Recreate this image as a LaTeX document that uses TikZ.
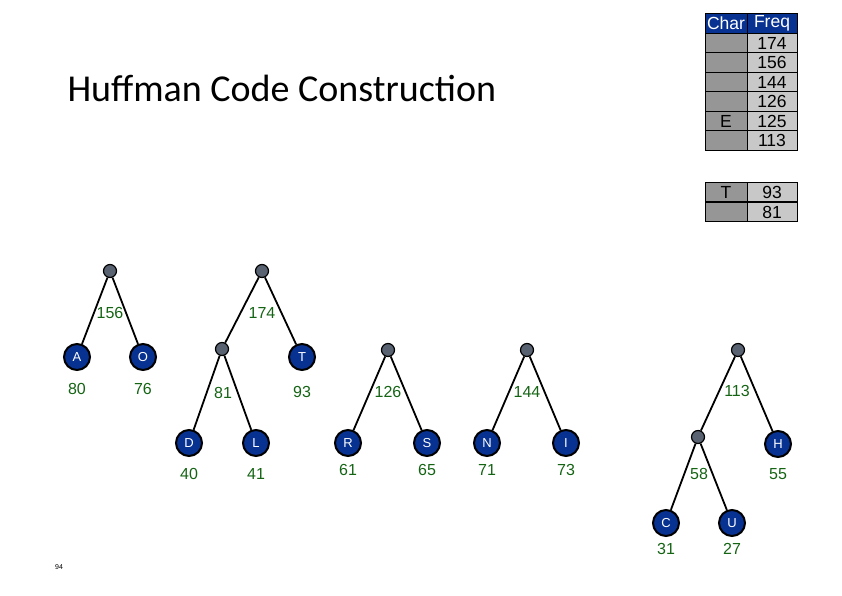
\documentclass[tikz,border=0pt]{standalone}
\usepackage{fontspec}
\setmainfont{Carlito}
\newfontfamily\comicfont{Liberation Sans}
\definecolor{leafblue}{RGB}{8,50,145}
\definecolor{knotgray}{RGB}{88,98,112}
\definecolor{wgreen}{RGB}{20,100,20}
\definecolor{chargray}{RGB}{150,150,150}
\definecolor{freqgray}{RGB}{200,200,200}
\tikzset{
  leaf/.style={circle,draw=black,line width=2pt,fill=leafblue,minimum size=26pt,inner sep=0pt,text=white,font=\comicfont\fontsize{13}{13}\selectfont},
  knot/.style={circle,draw=black,line width=1.2pt,fill=knotgray,minimum size=13pt,inner sep=0pt},
  weight/.style={text=wgreen,font=\comicfont\fontsize{16}{16}\selectfont},
  branch/.style={line width=1.8pt,black},
  charcell/.style={draw=black,line width=0.8pt,fill=chargray,minimum width=42pt,minimum height=19.5pt,inner sep=0pt,font=\comicfont\fontsize{17.5}{17.5}\selectfont},
  freqcell/.style={draw=black,line width=0.8pt,fill=freqgray,minimum width=50pt,minimum height=19.5pt,inner sep=0pt,font=\comicfont\fontsize{17.5}{17.5}\selectfont},
}
\begin{document}
\begin{tikzpicture}[x=1pt,y=-1pt]
    \useasboundingbox (0,0) rectangle (842,595);
    \node[anchor=base west,font=\fontsize{38}{38}\selectfont] (title) at (64,101) {Huffman Code Construction};
    \node[font=\comicfont\fontsize{7}{7}\selectfont] (page) at (59,567) {94};
    % table
    \node[charcell,fill=leafblue,text=white,minimum height=20pt] (hc) at (726,23) {Char};
    \node[freqcell,fill=leafblue,text=white,minimum height=20pt] (hf) at (772,23) {Freq};
    \foreach \c/\f [count=\i] in {/174,/156,/144,/126,E/125,/113}{
        \node[charcell] (c\i) at (726,23.5+19.5*\i) {\c};
        \node[freqcell] (f\i) at (772,23.5+19.5*\i) {\f};
    }
    \node[charcell] (c7) at (726,192) {T};
    \node[freqcell] (f7) at (772,192) {93};
    \node[charcell] (c8) at (726,212) {};
    \node[freqcell] (f8) at (772,212) {81};
    % tree 156
    \node[knot] (n156) at (110,271) {};
    \node[leaf] (A) at (77,357) {A};
    \node[leaf] (O) at (143,357) {O};
    \draw[branch] (n156) -- (A);
    \draw[branch] (n156) -- (O);
    \node[weight] at (110,313) {156};
    \node[weight] at (77,389) {80};
    \node[weight] at (143,389) {76};
    % tree 174
    \node[knot] (n174) at (262,271) {};
    \node[knot] (n81) at (222,349) {};
    \node[leaf] (T) at (302,357) {T};
    \node[leaf] (D) at (189,443) {D};
    \node[leaf] (L) at (256,443) {L};
    \draw[branch] (n174) -- (n81);
    \draw[branch] (n174) -- (T);
    \draw[branch] (n81) -- (D);
    \draw[branch] (n81) -- (L);
    \node[weight] at (262,313) {174};
    \node[weight] at (223,393) {81};
    \node[weight] at (302,392) {93};
    \node[weight] at (189,474) {40};
    \node[weight] at (256,474) {41};
    % tree 126
    \node[knot] (n126) at (388,350) {};
    \node[leaf] (R) at (348,443) {R};
    \node[leaf] (S) at (427,443) {S};
    \draw[branch] (n126) -- (R);
    \draw[branch] (n126) -- (S);
    \node[weight] at (388,392) {126};
    \node[weight] at (348,470) {61};
    \node[weight] at (427,470) {65};
    % tree 144
    \node[knot] (n144) at (527,350) {};
    \node[leaf] (N) at (487,443) {N};
    \node[leaf] (I) at (566,443) {I};
    \draw[branch] (n144) -- (N);
    \draw[branch] (n144) -- (I);
    \node[weight] at (527,392) {144};
    \node[weight] at (487,470) {71};
    \node[weight] at (566,470) {73};
    % tree 113
    \node[knot] (n113) at (738,350) {};
    \node[knot] (n58) at (698,437) {};
    \node[leaf] (H) at (778,444) {H};
    \node[leaf] (C) at (666,523) {C};
    \node[leaf] (U) at (732,523) {U};
    \draw[branch] (n113) -- (n58);
    \draw[branch] (n113) -- (H);
    \draw[branch] (n58) -- (C);
    \draw[branch] (n58) -- (U);
    \node[weight] at (737,391) {113};
    \node[weight] at (699,474) {58};
    \node[weight] at (778,474) {55};
    \node[weight] at (666,549) {31};
    \node[weight] at (732,549) {27};
\end{tikzpicture}
\end{document}
